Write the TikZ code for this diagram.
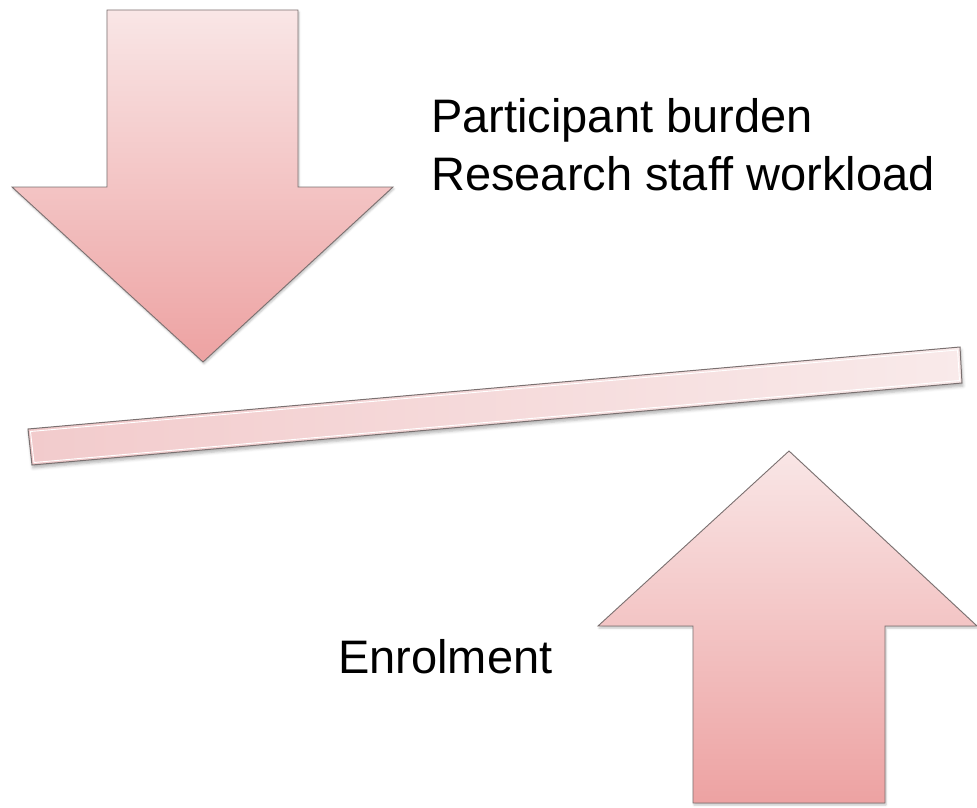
\documentclass[tikz,border=0pt]{standalone}
\usepackage{fontspec}
\setmainfont{Liberation Sans}
\usetikzlibrary{shadows.blur}

\definecolor{pinkTop}{HTML}{F9E6E6}
\definecolor{pinkBot}{HTML}{EDA2A2}
\definecolor{barLeft}{HTML}{F2CBCC}
\definecolor{barRight}{HTML}{F9EAEA}
\definecolor{edgeGray}{HTML}{7A7070}

\begin{document}
\begin{tikzpicture}[
  x=1pt, y=-1pt,
  bigarrow/.style = {draw=edgeGray, line width=0.9pt, line join=miter,
                     top color=pinkTop, bottom color=pinkBot,
                     blur shadow={shadow xshift=1pt, shadow yshift=-2pt, shadow opacity=25, shadow blur radius=2pt}},
  beam/.style = {draw=edgeGray, line width=1pt,
                 left color=barLeft, right color=barRight,
                 blur shadow={shadow xshift=1pt, shadow yshift=-3pt, shadow opacity=30, shadow blur radius=3pt}},
  bevel/.style = {draw=white, line width=0.9pt},
  txt/.style = {anchor=base west, inner sep=0pt, font=\fontsize{47}{56}\selectfont}
]

% Canvas
\useasboundingbox (0,0) rectangle (977,808);

% Downward arrow (top left)
\draw[bigarrow] (107,10) -- (298,10) -- (298,187) -- (393,187)
  -- (203,362) -- (12,187) -- (107,187) -- cycle;

% Tilted beam with light inner edge
\draw[beam] (28,429) -- (960,347) -- (962,383) -- (32,465) -- cycle;
\draw[bevel] (30.5,431.5) -- (957.5,350) -- (959.5,380.5) -- (34,462.5) -- cycle;

% Upward arrow (bottom right)
\draw[bigarrow] (693,803) -- (693,626) -- (598,626) -- (789,451)
  -- (977,626) -- (885,626) -- (885,803) -- cycle;

% Labels
\node[txt] (burden) at (431,132) {Participant burden};
\node[txt] (workload) at (431,190) {Research staff workload};
\node[txt] (enrol) at (338,673) {Enrolment};

\end{tikzpicture}
\end{document}
